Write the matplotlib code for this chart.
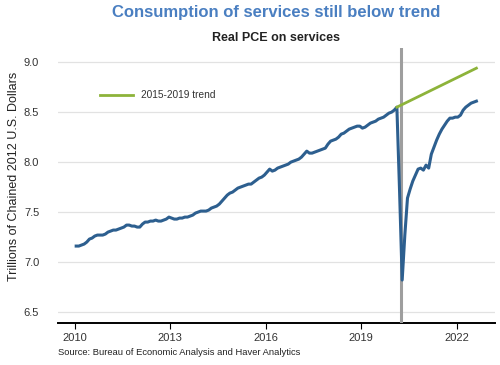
import matplotlib
matplotlib.use("Agg")
import matplotlib.pyplot as plt
import numpy as np

plt.rcParams['font.family'] = ['Liberation Sans', 'DejaVu Sans']

# Monthly real PCE on services, trillions of chained 2012 dollars (Jan 2010 - Aug 2022)
pce_2010 = [7.16, 7.16, 7.17, 7.18, 7.20, 7.23, 7.24, 7.26, 7.27, 7.27, 7.27, 7.28]
pce_2011 = [7.30, 7.31, 7.32, 7.32, 7.33, 7.34, 7.35, 7.37, 7.37, 7.36, 7.36, 7.35]
pce_2012 = [7.35, 7.38, 7.40, 7.40, 7.41, 7.41, 7.42, 7.41, 7.41, 7.42, 7.43, 7.45]
pce_2013 = [7.44, 7.43, 7.43, 7.44, 7.44, 7.45, 7.45, 7.46, 7.47, 7.49, 7.50, 7.51]
pce_2014 = [7.51, 7.51, 7.52, 7.54, 7.55, 7.56, 7.58, 7.61, 7.64, 7.67, 7.69, 7.70]
pce_2015 = [7.72, 7.74, 7.75, 7.76, 7.77, 7.78, 7.78, 7.80, 7.82, 7.84, 7.85, 7.87]
pce_2016 = [7.90, 7.93, 7.91, 7.92, 7.94, 7.95, 7.96, 7.97, 7.98, 8.00, 8.01, 8.02]
pce_2017 = [8.03, 8.05, 8.08, 8.11, 8.09, 8.09, 8.10, 8.11, 8.12, 8.13, 8.14, 8.18]
pce_2018 = [8.21, 8.22, 8.23, 8.25, 8.28, 8.29, 8.31, 8.33, 8.34, 8.35, 8.36, 8.36]
pce_2019 = [8.34, 8.35, 8.37, 8.39, 8.40, 8.41, 8.43, 8.44, 8.45, 8.47, 8.49, 8.50]
pce_2020 = [8.52, 8.55, 7.72, 6.82, 7.27, 7.64, 7.73, 7.81, 7.87, 7.93, 7.94, 7.92]
pce_2021 = [7.97, 7.94, 8.08, 8.15, 8.22, 8.28, 8.33, 8.37, 8.41, 8.44, 8.44, 8.45]
pce_2022 = [8.45, 8.47, 8.52, 8.55, 8.57, 8.59, 8.60, 8.61]

start_year = 2010
pce = (pce_2010 + pce_2011 + pce_2012 + pce_2013 + pce_2014 + pce_2015 + pce_2016 +
       pce_2017 + pce_2018 + pce_2019 + pce_2020 + pce_2021 + pce_2022)
months = np.arange(len(pce))
dates = start_year + (months + 0.5) / 12.0

# 2015-2019 trend, extrapolated from Feb 2020 to Aug 2022
trend_dates = [2020 + 1.5 / 12, 2022 + 7.5 / 12]
trend_values = [8.55, 8.94]

covid_marker = 2020.25

xticks = [2010, 2013, 2016, 2019, 2022]
yticks = [6.5, 7.0, 7.5, 8.0, 8.5, 9.0]

fig = plt.figure(figsize=(5.0, 3.65), dpi=100)
ax = fig.add_axes([0.116, 0.115, 0.874, 0.753])

ax.axvline(covid_marker, color='#9e9e9e', lw=2.2, zorder=3)
ax.plot(dates, pce, color='#2d5f8f', lw=2.2, zorder=4)
ax.plot(trend_dates, trend_values, color='#8db33a', lw=2.0, zorder=4,
        label='2015-2019 trend')

ax.set_xlim(2009.47, 2023.21)
ax.set_ylim(6.39, 9.14)
ax.set_xticks(xticks)
ax.set_xticklabels([str(x) for x in xticks])
ax.set_yticks(yticks)
ax.set_yticklabels([f"{y:.1f}" for y in yticks])

ax.grid(axis='y', color='#e2e2e2', lw=0.9)
ax.set_axisbelow(True)
for s in ['left', 'right', 'top']:
    ax.spines[s].set_visible(False)
ax.spines['bottom'].set_color('black')
ax.spines['bottom'].set_linewidth(1.4)
ax.tick_params(axis='y', length=0, pad=13.5, labelsize=8, labelcolor='#333333')
ax.tick_params(axis='x', length=4, width=0.8, direction='out', pad=3,
               labelsize=8, labelcolor='#333333')

ax.set_ylabel('Trillions of Chained 2012 U.S. Dollars', fontsize=9,
              color='#222222')
ax.yaxis.set_label_coords(-0.088, 0.535)

leg = ax.legend(loc='upper left', bbox_to_anchor=(0.075, 0.88), frameon=False,
                fontsize=7.3, handlelength=3.3, labelcolor='#333333')

fig.text(0.552, 0.967, 'Consumption of services still below trend', ha='center',
         va='center', fontsize=12, fontweight='bold', color='#4a7fc1')
fig.text(0.553, 0.895, 'Real PCE on services', ha='center', va='center',
         fontsize=9, fontweight='bold', color='#222222')
fig.text(0.116, 0.033, 'Source: Bureau of Economic Analysis and Haver Analytics',
         ha='left', va='center', fontsize=6.75, color='#222222')

fig.savefig('out.png', dpi=100)
